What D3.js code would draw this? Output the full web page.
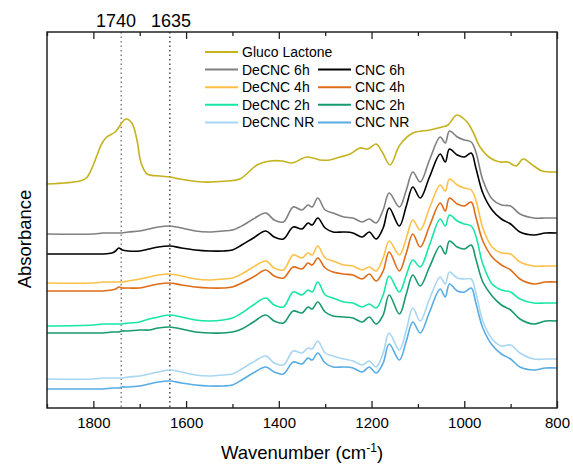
<!DOCTYPE html>
<html>
<head>
<meta charset="utf-8">
<script src="https://cdn.jsdelivr.net/npm/d3@7"></script>
<style>
  body { margin: 0; background: #fff; }
  text { font-family: "Liberation Sans", Arial, sans-serif; fill: #000; }
</style>
</head>
<body>
<div id="chart"></div>
<script>
// wavenumber grid (cm-1) shared by the cellulose spectra
var wavenumbers = [1900, 1800, 1780, 1760, 1752, 1745, 1738, 1725, 1700, 1680, 1660, 1635, 1610, 1580, 1550, 1520, 1500,
  1480, 1455, 1428, 1410, 1390, 1369, 1350, 1337, 1328, 1316, 1300, 1283, 1260, 1240, 1220, 1205, 1190, 1175, 1162,
  1140, 1125, 1111, 1095, 1075, 1052, 1041, 1032, 1015, 1000, 985, 975, 960, 940, 920, 900, 880, 850, 825, 800];

var decnc6h = [1.74, 1.74, 1.75, 1.75, 1.75, 1.75, 1.75, 1.76, 1.77, 1.79, 1.81, 1.82, 1.80, 1.77, 1.76, 1.77, 1.78,
  1.82, 1.89, 1.95, 1.88, 1.86, 2.01, 1.98, 2.03, 2.01, 2.10, 1.98, 1.95, 1.91, 1.90, 1.86, 1.89, 1.85, 1.98, 2.15,
  2.01, 2.18, 2.36, 2.26, 2.48, 2.71, 2.65, 2.77, 2.71, 2.68, 2.66, 2.56, 2.28, 2.09, 2.03, 2.02, 1.94, 1.90, 1.90, 1.90];
var cnc6h = [1.54, 1.54, 1.54, 1.55, 1.57, 1.60, 1.58, 1.57, 1.57, 1.59, 1.61, 1.62, 1.60, 1.58, 1.57, 1.57, 1.58,
  1.63, 1.70, 1.77, 1.71, 1.69, 1.81, 1.79, 1.85, 1.83, 1.90, 1.80, 1.76, 1.76, 1.75, 1.71, 1.76, 1.69, 1.80, 2.00,
  1.82, 2.02, 2.21, 2.10, 2.31, 2.54, 2.46, 2.59, 2.53, 2.51, 2.55, 2.40, 2.15, 1.98, 1.89, 1.84, 1.76, 1.73, 1.75, 1.75];
var decnc4h = [1.25, 1.25, 1.26, 1.26, 1.26, 1.26, 1.26, 1.27, 1.29, 1.31, 1.33, 1.34, 1.32, 1.29, 1.28, 1.29, 1.30,
  1.34, 1.41, 1.47, 1.40, 1.38, 1.53, 1.50, 1.55, 1.53, 1.62, 1.50, 1.47, 1.43, 1.42, 1.38, 1.41, 1.37, 1.50, 1.67,
  1.53, 1.70, 1.88, 1.78, 2.00, 2.23, 2.17, 2.29, 2.23, 2.20, 2.18, 2.08, 1.80, 1.61, 1.55, 1.54, 1.46, 1.42, 1.42, 1.42];
var cnc4h = [1.17, 1.17, 1.17, 1.18, 1.19, 1.21, 1.20, 1.20, 1.20, 1.22, 1.24, 1.25, 1.23, 1.21, 1.20, 1.20, 1.21,
  1.25, 1.31, 1.38, 1.32, 1.30, 1.41, 1.39, 1.45, 1.43, 1.50, 1.40, 1.36, 1.34, 1.33, 1.29, 1.34, 1.27, 1.37, 1.56,
  1.37, 1.55, 1.74, 1.61, 1.82, 2.05, 1.97, 2.10, 2.04, 2.02, 2.06, 1.91, 1.67, 1.51, 1.43, 1.38, 1.29, 1.24, 1.26, 1.26];
var decnc2h = [0.82, 0.83, 0.84, 0.84, 0.84, 0.84, 0.84, 0.85, 0.86, 0.89, 0.91, 0.93, 0.91, 0.88, 0.87, 0.88, 0.90,
  0.95, 1.03, 1.10, 1.03, 1.01, 1.16, 1.13, 1.18, 1.16, 1.26, 1.13, 1.10, 1.06, 1.05, 1.01, 1.04, 1.00, 1.13, 1.32,
  1.16, 1.33, 1.48, 1.41, 1.63, 1.89, 1.82, 1.93, 1.87, 1.84, 1.82, 1.72, 1.44, 1.24, 1.18, 1.16, 1.09, 1.05, 1.05, 1.05];
var cnc2h = [0.75, 0.75, 0.75, 0.76, 0.76, 0.76, 0.77, 0.77, 0.78, 0.78, 0.80, 0.81, 0.79, 0.76, 0.75, 0.75, 0.76,
  0.79, 0.86, 0.93, 0.87, 0.85, 0.97, 0.95, 1.01, 0.99, 1.06, 0.96, 0.92, 0.91, 0.90, 0.86, 0.91, 0.84, 0.93, 1.13,
  0.94, 1.14, 1.33, 1.22, 1.41, 1.62, 1.54, 1.67, 1.61, 1.59, 1.63, 1.49, 1.26, 1.12, 1.03, 0.98, 0.89, 0.84, 0.87, 0.87];
var decncNR = [0.29, 0.29, 0.30, 0.30, 0.30, 0.30, 0.30, 0.31, 0.32, 0.34, 0.36, 0.38, 0.36, 0.33, 0.32, 0.33, 0.34,
  0.39, 0.46, 0.52, 0.45, 0.43, 0.57, 0.55, 0.60, 0.59, 0.67, 0.55, 0.52, 0.49, 0.47, 0.43, 0.47, 0.41, 0.55, 0.75,
  0.58, 0.78, 1.00, 0.87, 1.09, 1.31, 1.24, 1.36, 1.30, 1.29, 1.29, 1.15, 0.87, 0.69, 0.62, 0.63, 0.55, 0.49, 0.49, 0.49];
var cncNR = [0.19, 0.19, 0.19, 0.20, 0.20, 0.20, 0.21, 0.21, 0.22, 0.24, 0.26, 0.27, 0.25, 0.23, 0.22, 0.22, 0.23,
  0.28, 0.35, 0.41, 0.36, 0.34, 0.46, 0.44, 0.50, 0.48, 0.55, 0.45, 0.41, 0.41, 0.40, 0.36, 0.41, 0.35, 0.45, 0.64,
  0.48, 0.67, 0.86, 0.75, 0.96, 1.19, 1.11, 1.24, 1.17, 1.16, 1.20, 1.05, 0.80, 0.63, 0.54, 0.49, 0.41, 0.38, 0.40, 0.40];

// gluco lactone has its own grid
var glWavenumbers = [1900, 1829, 1815, 1803, 1792, 1781, 1771, 1753, 1730, 1717, 1706, 1697, 1684, 1656, 1635, 1613,
  1564, 1512, 1484, 1447, 1419, 1393, 1372, 1339, 1311, 1290, 1268, 1246, 1225, 1208, 1190, 1177, 1160, 1139, 1111,
  1074, 1048, 1035, 1016, 994, 981, 966, 944, 923, 906, 888, 873, 850, 832, 800];
var glucoLactone = [2.24, 2.27, 2.30, 2.40, 2.53, 2.65, 2.71, 2.76, 2.89, 2.85, 2.68, 2.45, 2.34, 2.32, 2.31, 2.29,
  2.26, 2.27, 2.29, 2.43, 2.47, 2.47, 2.45, 2.51, 2.48, 2.48, 2.51, 2.54, 2.60, 2.59, 2.64, 2.56, 2.43, 2.63, 2.75,
  2.78, 2.81, 2.83, 2.93, 2.86, 2.76, 2.61, 2.50, 2.46, 2.46, 2.42, 2.49, 2.42, 2.37, 2.36];

var seriesNames = ["Gluco Lactone", "DeCNC 6h", "CNC 6h", "DeCNC 4h", "CNC 4h", "DeCNC 2h", "CNC 2h", "DeCNC NR", "CNC NR"];
var seriesColors = ["#c4b21e", "#808080", "#000000", "#ffc04a", "#de6d18", "#18e6a6", "#179a6c", "#a8d6f2", "#58ace4"];
var majorTicks = [1800, 1600, 1400, 1200, 1000, 800];
var minorTicks = [1900, 1700, 1500, 1300, 1100, 900];
var markers = [1740, 1635];

var chartWidth = 573, chartHeight = 464;
var plotLeft = 47, plotRight = 557, plotTop = 32, plotBottom = 408;

var svg = d3.select("#chart").append("svg")
  .attr("width", chartWidth)
  .attr("height", chartHeight);

var x = d3.scaleLinear().domain([1900, 800]).range([plotLeft, plotRight]);
var y = d3.scaleLinear().domain([0, 3.76]).range([plotBottom, plotTop]);

var allSeries = [
  { name: seriesNames[0], color: seriesColors[0], w: glWavenumbers, v: glucoLactone },
  { name: seriesNames[1], color: seriesColors[1], w: wavenumbers, v: decnc6h },
  { name: seriesNames[2], color: seriesColors[2], w: wavenumbers, v: cnc6h },
  { name: seriesNames[3], color: seriesColors[3], w: wavenumbers, v: decnc4h },
  { name: seriesNames[4], color: seriesColors[4], w: wavenumbers, v: cnc4h },
  { name: seriesNames[5], color: seriesColors[5], w: wavenumbers, v: decnc2h },
  { name: seriesNames[6], color: seriesColors[6], w: wavenumbers, v: cnc2h },
  { name: seriesNames[7], color: seriesColors[7], w: wavenumbers, v: decncNR },
  { name: seriesNames[8], color: seriesColors[8], w: wavenumbers, v: cncNR }
];

// marker lines
var markerColors = ["#666", "#222"];
svg.selectAll(".marker")
  .data(markers)
  .enter().append("line")
  .attr("x1", function(d) { return x(d); })
  .attr("x2", function(d) { return x(d); })
  .attr("y1", plotTop)
  .attr("y2", plotBottom)
  .attr("stroke", function(d, i) { return markerColors[i]; })
  .attr("stroke-width", 1.2)
  .attr("stroke-dasharray", "1.5,3");

var line = d3.line()
  .x(function(d) { return x(d[0]); })
  .y(function(d) { return y(d[1]); })
  .curve(d3.curveCatmullRom.alpha(0.5));

svg.selectAll(".spectrum")
  .data(allSeries.slice().reverse())
  .enter().append("path")
  .attr("fill", "none")
  .attr("stroke", function(d) { return d.color; })
  .attr("stroke-width", 1.6)
  .attr("d", function(d) { return line(d3.zip(d.w, d.v)); });

// axes
var gBottom = svg.append("g").attr("transform", "translate(0," + plotBottom + ")");
gBottom.call(d3.axisBottom(x).tickValues(majorTicks).tickSize(-7).tickPadding(9).tickFormat(d3.format("d")));
gBottom.append("g").call(d3.axisBottom(x).tickValues(minorTicks).tickSize(-4).tickFormat(""));
var gTop = svg.append("g").attr("transform", "translate(0," + plotTop + ")");
gTop.call(d3.axisTop(x).tickValues(majorTicks).tickSize(-7).tickFormat(""));
gTop.append("g").call(d3.axisTop(x).tickValues(minorTicks).tickSize(-4).tickFormat(""));
svg.selectAll(".domain").remove();
svg.selectAll(".tick line").attr("stroke", "#222").attr("stroke-width", 1.3);
gBottom.selectAll(".tick text")
  .attr("font-size", 15)
  .attr("font-family", "Liberation Sans, Arial, sans-serif")
  .attr("fill", "#000");

svg.append("rect")
  .attr("x", plotLeft)
  .attr("y", plotTop)
  .attr("width", plotRight - plotLeft)
  .attr("height", plotBottom - plotTop)
  .attr("fill", "none")
  .attr("stroke", "#222")
  .attr("stroke-width", 1.5);

// marker labels
var markerLabelX = [116, 171];
svg.selectAll(".markerLabel")
  .data(markers)
  .enter().append("text")
  .attr("x", function(d, i) { return markerLabelX[i]; })
  .attr("y", 27)
  .attr("text-anchor", "middle")
  .attr("font-size", 18)
  .text(function(d) { return d; });

// axis titles
var xTitle = svg.append("text")
  .attr("x", 302)
  .attr("y", 459)
  .attr("text-anchor", "middle")
  .attr("font-size", 18.5);
xTitle.append("tspan").text("Wavenumber (cm");
xTitle.append("tspan").attr("font-size", 12).attr("dy", -7).text("-1");
xTitle.append("tspan").attr("dy", 7).text(")");

svg.append("text")
  .attr("transform", "translate(31,239) rotate(-90)")
  .attr("text-anchor", "middle")
  .attr("font-size", 18.5)
  .text("Absorbance");

// legend
var legendRows = [
  [0, null],
  [1, 2],
  [3, 4],
  [5, 6],
  [7, 8]
];
var colX = [205, 318];
legendRows.forEach(function(row, r) {
  var ly = 52 + r * 17.6;
  row.forEach(function(idx, c) {
    if (idx === null) return;
    var s = allSeries[idx];
    svg.append("line")
      .attr("x1", colX[c])
      .attr("x2", colX[c] + 33)
      .attr("y1", ly)
      .attr("y2", ly)
      .attr("stroke", s.color)
      .attr("stroke-width", 2);
    svg.append("text")
      .attr("x", colX[c] + 37)
      .attr("y", ly + 5)
      .attr("font-size", 14)
      .text(s.name);
  });
});
</script>
</body>
</html>
